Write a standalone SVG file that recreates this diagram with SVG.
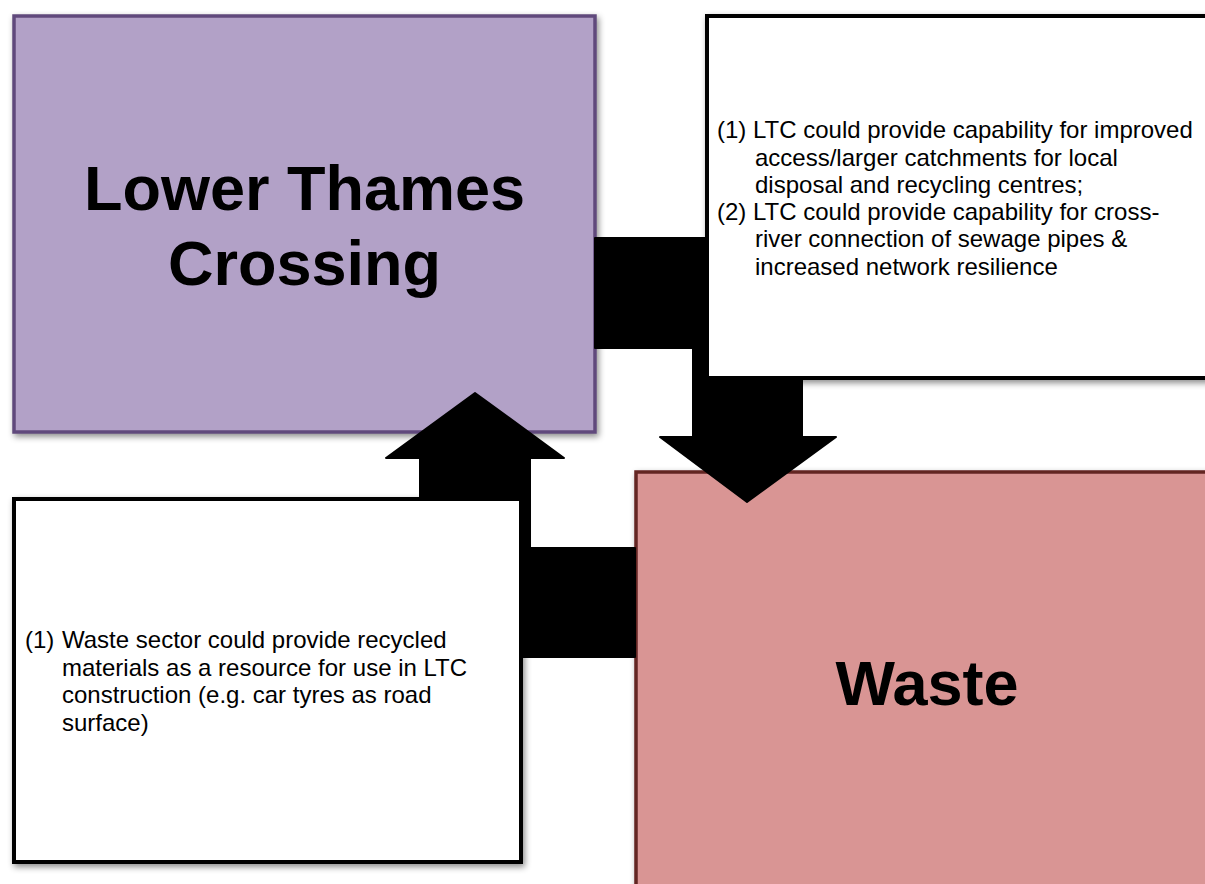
<svg xmlns="http://www.w3.org/2000/svg" width="1205" height="884" viewBox="0 0 1205 884">
  <defs>
    <filter id="shadow" x="-5%" y="-5%" width="115%" height="115%">
      <feDropShadow dx="2" dy="3" stdDeviation="3" flood-color="#000" flood-opacity="0.45"/>
    </filter>
  </defs>
  <style>
    .title { font-family: "Liberation Sans", Arial, sans-serif; font-weight: bold; font-size: 63px; fill: #000; text-anchor: middle; }
    .note { font-family: "Liberation Sans", Arial, sans-serif; font-size: 24px; fill: #000; }
    .notebox { fill: #fff; stroke: #000; stroke-width: 4; }
    .link { fill: #000; stroke: #000; stroke-width: 2; stroke-linejoin: round; }
  </style>
  <rect width="1205" height="884" fill="#fff"/>

  <!-- Sector nodes -->
  <g id="node-ltc">
    <rect x="14" y="16" width="581" height="416" fill="#b2a1c7" stroke="#604a7b" stroke-width="3.5" filter="url(#shadow)"/>
    <text class="title" x="304.5" y="210">Lower Thames</text>
    <text class="title" x="304.5" y="285">Crossing</text>
  </g>
  <g id="node-waste">
    <rect x="636" y="472" width="590" height="430" fill="#d99594" stroke="#632523" stroke-width="3.5" filter="url(#shadow)"/>
    <text class="title" x="927" y="705">Waste</text>
  </g>

  <!-- Elbow block arrows between the sectors -->
  <g id="connectors">
    <polygon class="link" points="595,238 802,238 802,437 836,437 747,502 660,437 693,437 693,348 595,348"/>
    <polygon class="link" points="635,548 530,548 530,458 564,458 475,393 386,458 420,458 420,657 635,657"/>
  </g>

  <!-- Annotation boxes sitting over the arrows -->
  <g id="note-ltc-to-waste">
    <rect class="notebox" x="707" y="16" width="520" height="362" filter="url(#shadow)"/>
    <text class="note" x="717" y="138">(1) LTC could provide capability for improved</text>
    <text class="note" x="755" y="165.5">access/larger catchments for local</text>
    <text class="note" x="755" y="192.8">disposal and recycling centres;</text>
    <text class="note" x="717" y="220.1">(2) LTC could provide capability for cross-</text>
    <text class="note" x="755" y="247.4">river connection of sewage pipes &amp;</text>
    <text class="note" x="755" y="274.7">increased network resilience</text>
  </g>
  <g id="note-waste-to-ltc">
    <rect class="notebox" x="14" y="499" width="507" height="363" filter="url(#shadow)"/>
    <text class="note" x="25" y="648">(1)</text>
    <text class="note" x="62" y="648">Waste sector could provide recycled</text>
    <text class="note" x="62" y="675.7">materials as a resource for use in LTC</text>
    <text class="note" x="62" y="703.4">construction (e.g. car tyres as road</text>
    <text class="note" x="62" y="731">surface)</text>
  </g>
</svg>
